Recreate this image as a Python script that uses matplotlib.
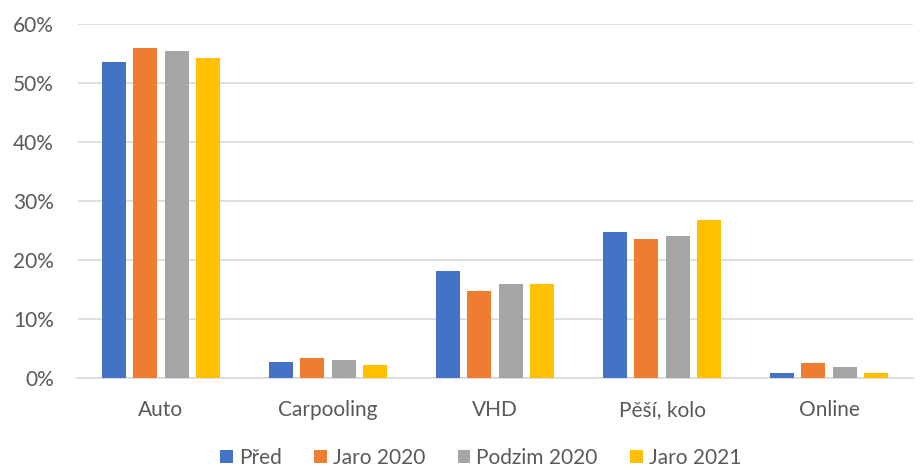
import numpy as np
import matplotlib.pyplot as plt
from matplotlib.ticker import PercentFormatter

categories = ["Auto", "Carpooling", "VHD", "Pěší, kolo", "Online"]
series_names = ["Před", "Jaro 2020", "Podzim 2020", "Jaro 2021"]
pred = [53.5, 2.7, 18.2, 24.7, 0.8]
jaro2020 = [55.9, 3.4, 14.7, 23.5, 2.5]
podzim2020 = [55.4, 3.0, 15.9, 24.0, 1.8]
jaro2021 = [54.2, 2.2, 16.0, 26.7, 0.8]
colors = ["#4472C4", "#ED7D31", "#A5A5A5", "#FFC000"]

plt.rcParams['font.family'] = ['Lato', 'DejaVu Sans']

fig = plt.figure(figsize=(9.21, 4.70), dpi=100)
ax = fig.add_axes([77.5 / 921, 1 - 378 / 470, 835 / 921, 354 / 470])

x = np.arange(len(categories))
slot = 0.186
width = 0.144
for i, (vals, name) in enumerate(zip([pred, jaro2020, podzim2020, jaro2021], series_names)):
    ax.bar(x + (i - 1.5) * slot, vals, width, color=colors[i], label=name, zorder=3)

ax.set_ylim(0, 60)
ax.set_xlim(-0.5, len(categories) - 0.5)
ax.set_yticks(range(0, 61, 10))
ax.yaxis.set_major_formatter(PercentFormatter(decimals=0))
ax.set_xticks(x)
ax.set_xticklabels(categories)
ax.tick_params(axis='both', length=0, labelsize=15, colors="#595959")
ax.tick_params(axis='x', pad=16)
ax.tick_params(axis='y', pad=17)
ax.grid(axis='y', color="#D9D9D9", linewidth=1.2, zorder=0)
for s in ['top', 'right', 'left']:
    ax.spines[s].set_visible(False)
ax.spines['bottom'].set_color("#D9D9D9")
ax.spines['bottom'].set_linewidth(1.2)

fig.legend(loc='lower center', ncol=4, frameon=False, fontsize=15,
           bbox_to_anchor=(0.522, -0.036), handlelength=0.6, handleheight=0.6,
           handletextpad=0.3, columnspacing=1.55, labelcolor="#595959")

fig.savefig("out.png", dpi=100)
